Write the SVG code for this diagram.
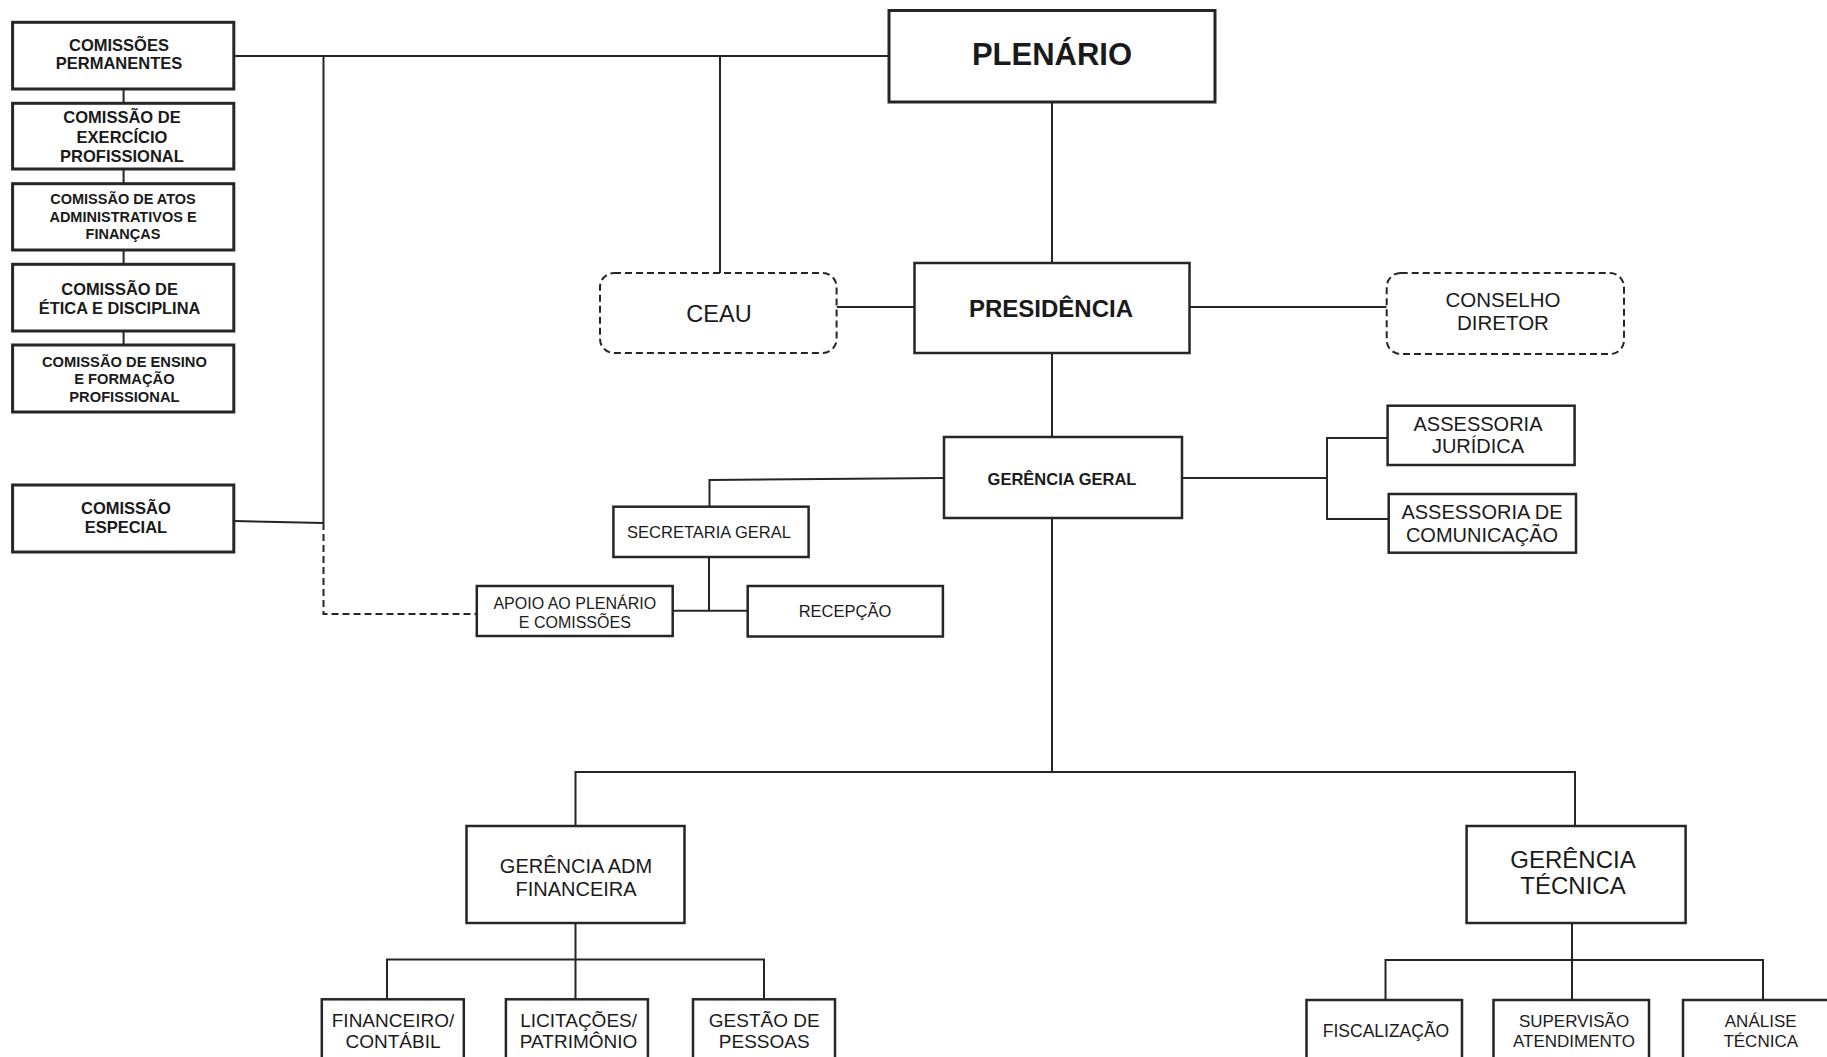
<svg xmlns="http://www.w3.org/2000/svg" width="1827" height="1057" viewBox="0 0 1827 1057">
<style>
.box{fill:#fff;stroke:#262626;stroke-width:2.5}
.cbox{fill:#fff;stroke:#262626;stroke-width:3}
.dbox{fill:#fff;stroke:#262626;stroke-width:2;stroke-dasharray:7 4}
.ln{fill:none;stroke:#262626;stroke-width:2}
.dln{fill:none;stroke:#262626;stroke-width:2;stroke-dasharray:7 4}
text{font-family:"Liberation Sans",Arial,sans-serif;fill:#1a1a1a;text-anchor:middle}
.b{font-weight:bold}
</style>
<rect width="1827" height="1057" fill="#fff"/>
<g id="connectors">
<path class="ln" d="M233.8 56 H889"/>
<path class="ln" d="M323.5 56 V523"/>
<path class="ln" d="M233.8 521 L323.5 523"/>
<path class="dln" d="M323.5 523 V614 H476.8"/>
<path class="ln" d="M123.6 89 V103.3 M123.6 169 V183.7 M123.6 250 V264.3 M123.6 331 V345"/>
<path class="ln" d="M720 56 V273"/>
<path class="ln" d="M1052 102 V263"/>
<path class="ln" d="M836.6 307 H914.5"/>
<path class="ln" d="M1189.4 307 H1386.7"/>
<path class="ln" d="M1052 353 V437"/>
<path class="ln" d="M1182 478 H1327 M1387.6 438 H1327 V519 H1388.7"/>
<path class="ln" d="M944 478 L709.5 480 V506.7"/>
<path class="ln" d="M709 557 V610.7 M672.7 610.7 H747.7"/>
<path class="ln" d="M1052 518 V772 M575.5 826 V772 H1575 V826"/>
<path class="ln" d="M575.5 923 V999.3 M387 999.3 V959.5 H764 V999.3"/>
<path class="ln" d="M1572 923 V1000 M1385.5 1000 V960 H1763 V1000"/>
</g>
<g id="com-permanentes"><rect class="cbox" x="12.6" y="22.3" width="221.2" height="66.7"/><text class="b" font-size="16.5" x="119" y="50.7">COMISSÕES</text><text class="b" font-size="16.5" x="119" y="69.3">PERMANENTES</text></g>
<g id="com-exercicio"><rect class="cbox" x="12.6" y="103.3" width="221.2" height="65.7"/><text class="b" font-size="16.5" x="122" y="123.3">COMISSÃO DE</text><text class="b" font-size="16.5" x="122" y="142.7">EXERCÍCIO</text><text class="b" font-size="16.5" x="122" y="161.7">PROFISSIONAL</text></g>
<g id="com-atos"><rect class="cbox" x="12.6" y="183.7" width="221.2" height="66.3"/><text class="b" font-size="14.5" x="123" y="204">COMISSÃO DE ATOS</text><text class="b" font-size="14.5" x="123" y="221.7">ADMINISTRATIVOS E</text><text class="b" font-size="14.5" x="123" y="239">FINANÇAS</text></g>
<g id="com-etica"><rect class="cbox" x="12.6" y="264.3" width="221.2" height="66.7"/><text class="b" font-size="16.4" x="119.6" y="295">COMISSÃO DE</text><text class="b" font-size="16.4" x="119.6" y="314">ÉTICA E DISCIPLINA</text></g>
<g id="com-ensino"><rect class="cbox" x="12.6" y="345" width="221.2" height="67"/><text class="b" font-size="14.7" x="124.4" y="366.7">COMISSÃO DE ENSINO</text><text class="b" font-size="14.7" x="124.4" y="384.3">E FORMAÇÃO</text><text class="b" font-size="14.7" x="124.4" y="402.3">PROFISSIONAL</text></g>
<g id="com-especial"><rect class="cbox" x="12.6" y="485" width="221.2" height="67"/><text class="b" font-size="16.5" x="125.9" y="514.3">COMISSÃO</text><text class="b" font-size="16.5" x="125.9" y="533.3">ESPECIAL</text></g>
<g id="plenario"><rect class="cbox" x="889" y="10.5" width="326" height="91.5"/><text class="b" font-size="31" x="1052" y="65">PLENÁRIO</text></g>
<g id="presidencia"><rect class="box" x="914.5" y="263" width="275" height="90"/><text class="b" font-size="24" x="1051" y="316.7">PRESIDÊNCIA</text></g>
<g id="ceau"><rect class="dbox" x="600" y="273" width="236.6" height="80" rx="14"/><text font-size="23.5" x="719" y="321.7">CEAU</text></g>
<g id="conselho-diretor"><rect class="dbox" x="1386.7" y="273" width="237.3" height="81" rx="14"/><text font-size="20.5" x="1503" y="307.3">CONSELHO</text><text font-size="20.5" x="1503" y="330">DIRETOR</text></g>
<g id="gerencia-geral"><rect class="box" x="944" y="437" width="238" height="81"/><text class="b" font-size="16.5" x="1062" y="485">GERÊNCIA GERAL</text></g>
<g id="assessoria-juridica"><rect class="box" x="1387.6" y="405.7" width="187" height="59.3"/><text font-size="20" x="1478" y="430.7">ASSESSORIA</text><text font-size="20" x="1478" y="453.3">JURÍDICA</text></g>
<g id="assessoria-comunicacao"><rect class="box" x="1388.7" y="494" width="187.3" height="58.7"/><text font-size="20" x="1482" y="519.3">ASSESSORIA DE</text><text font-size="20" x="1482" y="542.3">COMUNICAÇÃO</text></g>
<g id="secretaria-geral"><rect class="box" x="613.4" y="506.7" width="195.2" height="50.3"/><text font-size="16.5" x="709" y="537.7">SECRETARIA GERAL</text></g>
<g id="apoio"><rect class="box" x="476.8" y="586" width="195.9" height="50"/><text font-size="16" x="574.8" y="609">APOIO AO PLENÁRIO</text><text font-size="16" x="574.8" y="627.7">E COMISSÕES</text></g>
<g id="recepcao"><rect class="box" x="747.7" y="586" width="195.2" height="50.5"/><text font-size="16.5" x="845" y="616.7">RECEPÇÃO</text></g>
<g id="gerencia-adm"><rect class="box" x="466.5" y="826" width="218" height="97"/><text font-size="20" x="576" y="872.7">GERÊNCIA ADM</text><text font-size="20" x="576" y="896">FINANCEIRA</text></g>
<g id="gerencia-tecnica"><rect class="box" x="1466.6" y="826" width="219" height="97"/><text font-size="24" x="1573" y="868.3">GERÊNCIA</text><text font-size="24" x="1573" y="894.3">TÉCNICA</text></g>
<g id="financeiro"><rect class="box" x="321.8" y="999.3" width="142" height="80"/><text font-size="19" x="393" y="1027.3">FINANCEIRO/</text><text font-size="19" x="393" y="1048">CONTÁBIL</text></g>
<g id="licitacoes"><rect class="box" x="505.9" y="999.3" width="142" height="80"/><text font-size="19" x="578.6" y="1027.3">LICITAÇÕES/</text><text font-size="19" x="578.6" y="1048">PATRIMÔNIO</text></g>
<g id="gestao-pessoas"><rect class="box" x="693" y="999.3" width="142" height="80"/><text font-size="19" x="764.2" y="1027.3">GESTÃO DE</text><text font-size="19" x="764.2" y="1048">PESSOAS</text></g>
<g id="fiscalizacao"><rect class="box" x="1306.5" y="1000" width="155.5" height="80"/><text font-size="17.5" x="1386" y="1036.7">FISCALIZAÇÃO</text></g>
<g id="supervisao"><rect class="box" x="1493.5" y="1000" width="155.5" height="80"/><text font-size="17" x="1574" y="1026.7">SUPERVISÃO</text><text font-size="17" x="1574" y="1046.7">ATENDIMENTO</text></g>
<g id="analise"><rect class="box" x="1683" y="1000" width="155.5" height="80"/><text font-size="17" x="1760.7" y="1026.7">ANÁLISE</text><text font-size="17" x="1760.7" y="1046.7">TÉCNICA</text></g>
</svg>
